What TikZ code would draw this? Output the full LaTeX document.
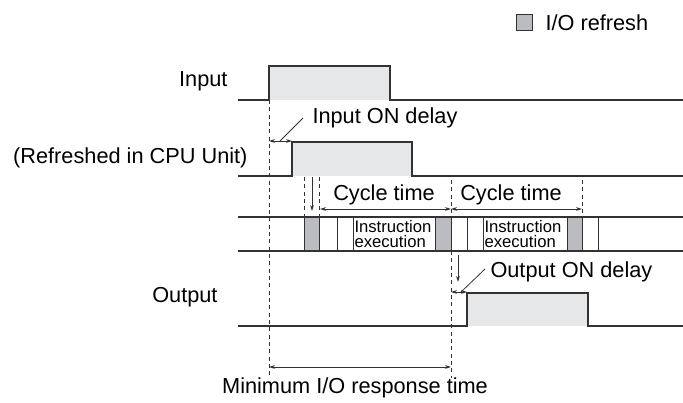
\documentclass[tikz,border=0pt]{standalone}
\usepackage{fontspec}
\setmainfont{Liberation Sans}
\usetikzlibrary{arrows.meta}

\definecolor{sigfill}{RGB}{230,231,232}
\definecolor{iofill}{RGB}{187,188,191}
\definecolor{linegray}{RGB}{50,50,50}

\tikzset{every picture/.style={line width=0.75pt}}
\tikzset{
  signal/.style={draw=linegray, line width=1.1pt},
  guide/.style={draw=linegray, line width=0.7pt, dash pattern={on 3pt off 2.5pt}},
  dimarrow/.style={draw=linegray, line width=0.6pt, {Stealth[length=4.5pt,width=2.8pt]}-{Stealth[length=4.5pt,width=2.8pt]}},
  downarrow/.style={draw=linegray, line width=0.6pt, -{Stealth[length=4.5pt,width=2.8pt]}},
  lbl/.style={inner sep=0.75pt, font=\fontsize{16.3}{19}\selectfont},
  small/.style={inner sep=0.75pt, font=\fontsize{12.5}{11.3}\selectfont, align=left}
}

\begin{document}
\begin{tikzpicture}[x=0.75pt,y=0.75pt,yscale=-1,xscale=1]
\useasboundingbox (0,0) rectangle (683,403);

%Legend
\draw [draw=linegray, fill=iofill, line width=0.6pt] (516,14) rectangle (532,30) ;
\draw (544,23) node [anchor=west][lbl] (legend) {I/O refresh};

%Input signal
\fill [sigfill] (269,66) rectangle (390,100) ;
\draw [signal] (238,100) -- (269,100) -- (269,66) -- (390,66) -- (390,100) -- (683,100) ;
%Refreshed signal
\fill [sigfill] (292,142) rectangle (412,176) ;
\draw [signal] (238,176) -- (292,176) -- (292,142) -- (412,142) -- (412,176) -- (683,176) ;
%Output signal
\fill [sigfill] (467,293) rectangle (588,326) ;
\draw [signal] (238,326) -- (467,326) -- (467,293) -- (588,293) -- (588,326) -- (683,326) ;

%Cycle row: I/O refresh cells
\foreach \xa/\xb in {304/319, 435/451, 567/582}
  \draw [draw=linegray, fill=iofill, line width=0.6pt] (\xa,217) rectangle (\xb,251) ;
%Cycle row: cell borders
\foreach \xa in {337, 353, 467, 483, 598}
  \draw [draw=linegray, line width=0.6pt] (\xa,217) -- (\xa,251) ;
%Cycle row: top and bottom lines
\draw [signal] (238,217) -- (683,217) ;
\draw [signal] (238,251) -- (683,251) ;

%Dashed guides
\draw [guide] (269,100) -- (269,378) ;
\draw [guide] (304,177) -- (304,217) ;
\draw [guide] (319,177) -- (319,217) ;
\draw [guide] (451,180) -- (451,217) ;
\draw [guide] (451,251) -- (451,378) ;
\draw [guide] (582,180) -- (582,217) ;

%Input ON delay
\draw [dimarrow] (269,141) -- (292,141) ;
\draw [draw=linegray, line width=0.6pt] (280,141) -- (303,118) ;
%Cycle times
\draw [dimarrow] (320,209) -- (451,209) ;
\draw [dimarrow] (451,209) -- (582,209) ;
%Down arrows
\draw [downarrow] (312,177) -- (312,211) ;
\draw [downarrow] (458,255) -- (458,282) ;
%Output ON delay
\draw [dimarrow] (451,292) -- (467,292) ;
\draw [draw=linegray, line width=0.6pt] (461,292) -- (485,269) ;
%Minimum I/O response time
\draw [dimarrow] (269,367) -- (451,367) ;

% Text Node
\draw (229,81) node [anchor=east][lbl] (input) {Input};
% Text Node
\draw (249,158) node [anchor=east][lbl] (refreshed) {(Refreshed in CPU Unit)};
% Text Node
\draw (219,297) node [anchor=east][lbl] (output) {Output};
% Text Node
\draw (311,118) node [anchor=west][lbl] (indelay) {Input ON delay};
% Text Node
\draw (384,195) node [lbl] (cycleA) {Cycle time};
% Text Node
\draw (511,195) node [lbl] (cycleB) {Cycle time};
% Text Node
\draw (353,234.5) node [anchor=west][small] (instrA) {Instruction\\execution};
% Text Node
\draw (483,234.5) node [anchor=west][small] (instrB) {Instruction\\execution};
% Text Node
\draw (489,272) node [anchor=west][lbl] (outdelay) {Output ON delay};
% Text Node
\draw (355,388) node [lbl] (response) {Minimum I/O response time};
\end{tikzpicture}
\end{document}
